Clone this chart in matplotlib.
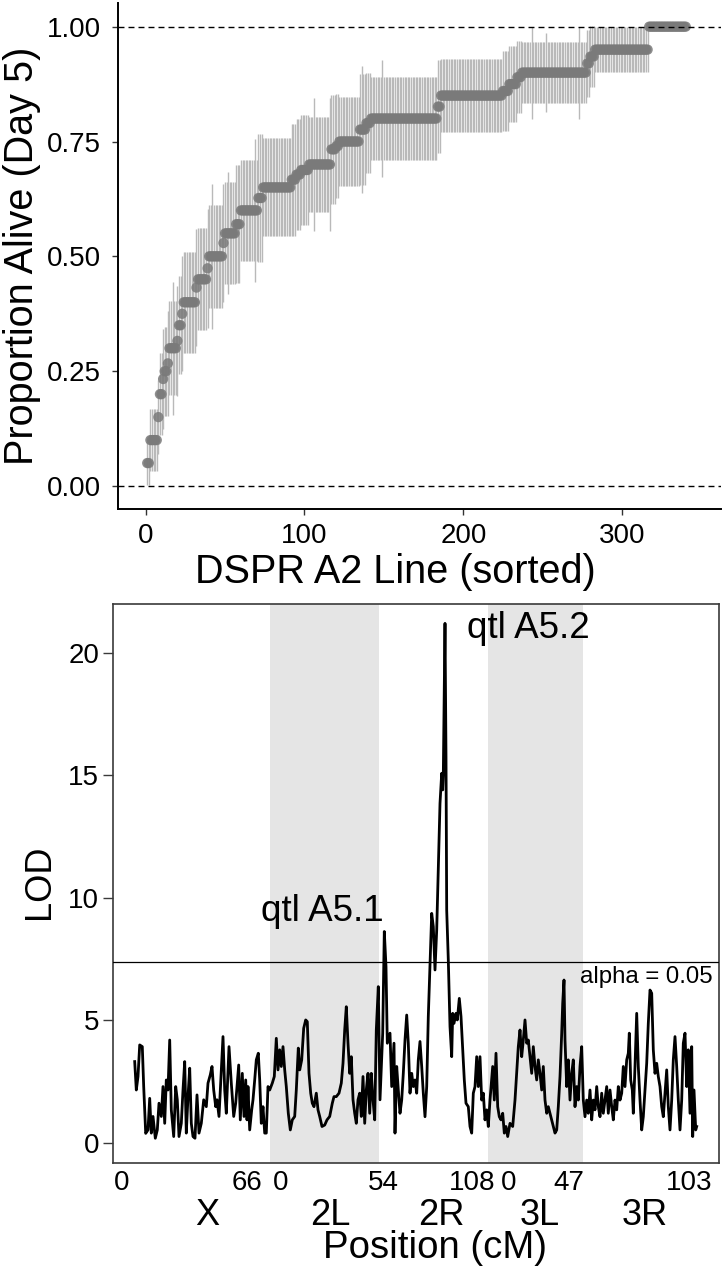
import numpy as np
import matplotlib
matplotlib.use('Agg')
from matplotlib import pyplot as plt
from matplotlib.transforms import blended_transform_factory

plt.rcParams['font.family'] = ['Liberation Sans', 'DejaVu Sans']

# ---- top panel: proportion alive at day 5, lines sorted (run length per level)
prop_levels = [0.05, 0.10, 0.15, 0.20, 0.233, 0.25, 0.267, 0.30, 0.316, 0.35, 0.375,
               0.40, 0.432, 0.45, 0.474, 0.50, 0.529, 0.55, 0.57, 0.60, 0.627, 0.65,
               0.667, 0.678, 0.688, 0.70, 0.733, 0.74, 0.75, 0.776, 0.79, 0.80, 0.826,
               0.85, 0.86, 0.875, 0.89, 0.90, 0.92, 0.935, 0.95, 1.00]
prop_counts = [2, 5, 1, 2, 1, 2, 1, 5, 1, 2, 1,
               8, 1, 6, 1, 9, 1, 7, 3, 11, 3, 18,
               3, 3, 5, 14, 3, 2, 13, 4, 3, 42, 2,
               39, 4, 5, 3, 41, 2, 3, 34, 24]
prop_n = [20, 20, 20, 20, 15, 20, 15, 20, 15, 20, 15,
          20, 15, 20, 15, 20, 15, 20, 15, 20, 12, 20,
          15, 15, 15, 20, 14, 15, 20, 12, 14, 20, 14,
          20, 16, 16, 16, 20, 14, 14, 20, 20]
# single lines with fewer flies (longer bars)
low_n_lines = [17, 42, 52, 69, 106, 116, 136, 149, 243, 252, 273]
low_n_flies = [10, 10, 14, 10, 10, 10, 9, 10, 9, 12, 9]

# ---- bottom panel: LOD scan (position along genome in plot units)
lod_pos = [12.7, 14.3, 16.0, 17.7, 20.3, 21.7, 23.7, 26.0, 27.7, 29.3, 31.0, 33.3, 35.3,
           37.0, 39.3, 41.0, 42.7, 44.3, 46.0, 47.7, 49.3, 51.7, 53.7, 55.3, 57.0, 59.3,
           61.0, 62.7, 64.3, 66.0, 67.7, 69.3, 71.0, 73.0, 75.0, 77.0, 79.3, 81.7, 84.3,
           86.0, 88.3, 90.0, 91.7, 93.7, 95.0, 97.0, 98.3, 101.0, 102.7, 104.3, 107.0,
           109.3, 111.7, 113.7, 115.0, 116.7, 118.3, 120.3, 122.0, 123.7, 125.0, 126.0,
           127.7, 129.7, 131.0, 132.7, 134.3, 136.3, 137.7, 139.3, 141.0, 142.7, 144.3,
           146.0, 147.7, 150.3, 152.3, 154.3, 156.0, 157.7, 159.3, 161.0, 162.7, 164.3,
           166.3, 168.3, 170.3, 172.7, 174.3, 176.3, 177.7, 179.7, 181.7, 183.7, 185.3,
           187.0, 188.7, 190.3, 192.0, 194.3, 196.0, 197.7, 200.0, 202.7, 205.0, 207.7,
           210.3, 212.0, 214.3, 217.0, 219.3, 221.0, 222.7, 224.3, 226.0, 227.7, 229.3,
           231.0, 232.7, 234.3, 236.0, 237.7, 239.3, 241.0, 242.7, 244.3, 246.0, 247.7,
           249.3, 251.0, 252.7, 254.3, 256.3, 258.0, 260.7, 262.3, 264.0, 265.3, 268.0,
           269.7, 272.0, 273.0, 274.7, 276.3, 278.0, 279.7, 281.3, 283.0, 284.7, 286.3,
           288.0, 289.7, 291.3, 293.0, 294.7, 296.3, 298.0, 299.7, 301.3, 303.0, 304.7,
           306.3, 308.0, 309.7, 311.3, 313.0, 314.7, 317.3, 318.0, 319.7, 320.7, 321.3,
           322.3, 323.0, 324.0, 324.7, 326.3, 328.0, 329.7, 330.7, 332.0, 334.0, 335.3,
           337.3, 339.0, 340.7, 342.3, 344.0, 346.3, 348.0, 349.7, 351.3, 353.0, 354.7,
           356.3, 358.0, 359.7, 361.3, 363.0, 364.7, 366.3, 368.0, 370.7, 372.3, 374.0,
           375.7, 377.3, 379.0, 380.7, 382.3, 384.0, 385.7, 388.0, 390.7, 393.0, 394.7,
           396.3, 398.0, 399.7, 401.3, 403.0, 404.7, 406.3, 408.0, 409.7, 411.3, 413.0,
           414.7, 416.3, 418.0, 419.7, 421.3, 423.0, 424.7, 426.3, 428.0, 429.7, 431.3,
           433.0, 434.7, 436.3, 438.0, 439.7, 440.7, 442.0, 443.0, 444.7, 446.3, 448.0,
           449.7, 451.3, 453.0, 454.7, 456.3, 458.0, 459.7, 461.3, 463.0, 464.7, 466.3,
           468.0, 469.7, 471.3, 473.0, 474.7, 476.3, 478.0, 479.7, 481.3, 483.0, 484.7,
           486.3, 488.0, 489.7, 491.3, 493.0, 494.7, 496.3, 498.0, 499.7, 501.3, 503.0,
           504.7, 506.3, 507.3, 508.7, 510.3, 511.3, 513.0, 514.7, 516.3, 518.0, 519.7,
           521.3, 523.0, 524.7, 526.3, 528.0, 529.7, 531.3, 533.0, 534.7, 536.3, 538.0,
           539.7, 541.3, 543.0, 544.7, 546.3, 548.0, 549.7, 551.3, 553.0, 554.7, 556.3,
           558.0, 559.7, 561.3, 563.0, 564.7, 566.3, 568.0, 569.7, 570.7, 572.0, 573.7,
           574.7]
lod_val = [3.32, 2.16, 2.71, 4.00, 3.93, 2.30, 0.39, 0.53, 1.82, 0.40, 1.08, 0.19, 0.53,
           1.62, 1.08, 2.30, 0.80, 2.57, 2.16, 4.20, 1.35, 0.26, 2.30, 1.76, 0.26, 0.80,
           2.16, 3.32, 0.40, 1.89, 3.05, 0.80, 0.26, 0.19, 1.96, 0.40, 0.80, 1.76, 1.48,
           2.44, 2.78, 3.12, 2.16, 1.48, 1.76, 1.08, 2.16, 4.34, 2.16, 1.21, 3.93,
           2.44, 1.08, 1.62, 2.30, 3.18, 0.94, 2.84, 1.08, 2.57, 0.94, 2.30,
           0.53, 1.35, 1.76, 2.57, 3.39, 3.66, 2.57, 0.80, 1.48, 0.40, 0.40,
           2.30, 2.16, 2.44, 2.71, 4.27, 2.98, 3.80, 3.12, 3.93, 2.98, 2.30,
           1.21, 0.53, 0.94, 1.08, 2.16, 3.87, 2.98, 3.39, 4.68, 5.02, 4.95,
           2.84, 2.03, 1.62, 1.48, 2.03, 1.35, 1.08, 0.67, 0.73, 0.94, 1.08,
           1.62, 1.89, 1.89, 2.03, 2.44, 3.25, 4.61, 5.56, 4.07, 2.84, 3.52,
           1.76, 1.21, 0.80, 1.76, 2.03, 1.08, 2.71, 0.80, 2.16, 2.84, 1.21,
           2.84, 1.76, 0.94, 4.61, 6.38, 1.76, 4.48, 8.63, 7.20, 4.07, 4.48,
           2.30, 4.07, 0.40, 3.12, 2.16, 1.21, 1.75, 2.84, 4.20, 5.22, 4.07,
           2.03, 2.84, 2.30, 2.57, 2.03, 3.39, 4.14, 3.12, 2.03, 1.07, 2.30,
           5.16, 7.20, 9.37, 8.83, 7.06, 8.69, 12.64, 13.86, 15.09, 14.41, 15.00,
           18.49, 21.21, 15.77, 9.50, 7.47, 4.75, 3.52, 5.29, 4.88, 5.29, 5.02,
           5.90, 5.16, 3.80, 2.57, 1.62, 1.48, 0.67, 0.40, 2.03, 2.30, 3.52,
           2.30, 3.52, 1.75, 2.03, 0.94, 1.35, 0.67, 1.75, 3.12, 1.75, 3.66,
           1.48, 1.07, 0.94, 1.21, 0.40, 0.67, 0.26, 0.80, 0.67, 1.75, 2.84,
           3.93, 4.61, 3.52, 4.20, 5.02, 4.07, 4.20, 3.52, 2.84, 3.93, 3.12,
           2.57, 3.39, 2.84, 2.16, 3.12, 1.75, 1.21, 1.48, 1.21, 0.94, 0.67,
           0.40, 0.53, 1.48, 2.71, 4.48, 5.70, 6.65, 4.20, 2.30, 3.39, 1.75,
           2.84, 3.39, 1.48, 2.30, 1.75, 3.12, 3.93, 1.75, 1.07, 1.75, 1.21,
           2.16, 0.94, 1.75, 1.35, 2.30, 1.48, 1.07, 2.03, 1.21, 1.75, 2.30,
           1.21, 2.16, 1.48, 0.94, 1.75, 1.35, 2.30, 1.75, 2.03, 3.12, 2.30,
           3.39, 3.66, 4.48, 2.57, 2.16, 1.21, 3.12, 5.29, 3.12, 1.75, 0.53,
           1.07, 2.16, 3.25, 4.88, 6.24, 6.11, 3.80, 2.84, 3.25, 2.71, 2.30,
           1.48, 1.07, 2.03, 2.98, 1.48, 0.53, 1.75, 3.39, 4.34, 3.12, 1.75,
           0.53, 1.75, 4.07, 4.48, 2.30, 3.80, 1.21, 3.93, 0.26, 2.16, 0.53,
           0.67]
lod_threshold = 7.39

# chromosome arms (plot units), shaded arms and cM tick labels
arm_names = ['X', '2L', '2R', '3L', '3R']
arm_label_pos = [85, 208, 319, 418, 523]
arm_edges = [0, 148, 257, 366, 461, 575]
shaded_arms = ['2L', '3L']
cm_tick_pos = [0, 125, 158.5, 261, 350, 387, 447, 567.5]
cm_tick_lab = ['0', '66', '0', '54', '108', '0', '47', '103']

W, H = 725, 1271
fig = plt.figure(figsize=(W / 100, H / 100), dpi=100)

# ---------------- top panel
p = np.repeat(prop_levels, prop_counts)
n = np.repeat(prop_n, prop_counts).astype(float)
lines = np.arange(1, len(p) + 1)
for ln, nf in zip(low_n_lines, low_n_flies):
    n[ln - 1] = nf
se = np.sqrt(p * (1 - p) / n)

ax1 = fig.add_axes([118 / W, 1 - 509 / H, (721 - 118) / W, (509 - 3) / H])
ax1.vlines(lines, p - se, p + se, color='#b9b9b9', lw=1.0, zorder=1)
ax1.scatter(lines, p, s=55, color='#7a7a7a', alpha=0.85, edgecolors='none', zorder=2)
for yy in [0, 1]:
    ax1.axhline(yy, color='black', lw=1.0, ls=(0, (4.3, 2.9)), zorder=3)
ax1.set_xlim(-17.4, 362.2)
ax1.set_ylim(-0.050, 1.0515)
ax1.set_xticks([0, 100, 200, 300])
ax1.set_yticks([0, 0.25, 0.5, 0.75, 1.0])
ax1.set_yticklabels(['0.00', '0.25', '0.50', '0.75', '1.00'])
for s in ['top', 'right']:
    ax1.spines[s].set_visible(False)
for s in ['left', 'bottom']:
    ax1.spines[s].set_linewidth(1.4)
    ax1.spines[s].set_color('black')
ax1.tick_params(axis='both', length=4, width=1, color='#333333', labelsize=20)
ax1.tick_params(axis='y', pad=8)
ax1.tick_params(axis='x', pad=6)
fig.text(22 / W, 1 - 256 / H, 'Proportion Alive (Day 5)', rotation=90,
         ha='center', va='center', fontsize=28.5)
fig.text(395 / W, 1 - 583 / H, 'DSPR A2 Line (sorted)', ha='center', va='baseline',
         fontsize=28.5)

# ---------------- bottom panel
ax2 = fig.add_axes([113 / W, 1 - 1163 / H, (719 - 113) / W, (1163 - 604) / H])
for i, name in enumerate(arm_names):
    if name in shaded_arms:
        ax2.axvspan(arm_edges[i], arm_edges[i + 1], color='#e5e5e5', lw=0, zorder=0)
ax2.plot(lod_pos, lod_val, color='black', lw=2.0, zorder=2)
ax2.axhline(lod_threshold, color='black', lw=0.9, zorder=3)
ax2.set_xlim(-9, 597)
ax2.set_ylim(-0.82, 22.0)
ax2.set_yticks([0, 5, 10, 15, 20])
ax2.set_xticks([])
for s in ax2.spines.values():
    s.set_linewidth(1.2)
    s.set_color('#3a3a3a')
ax2.tick_params(axis='y', length=7, width=1, color='#3a3a3a', labelsize=20, pad=3)

ax2.text(200, 9.04, 'qtl A5.1', ha='center', va='baseline', fontsize=26.5)
ax2.text(406.5, 20.6, 'qtl A5.2', ha='center', va='baseline', fontsize=26.5)
ax2.text(591, 6.54, 'alpha = 0.05', ha='right', va='baseline', fontsize=17.3)

tr = blended_transform_factory(ax2.transData, fig.transFigure)
for xp, lab in zip(cm_tick_pos, cm_tick_lab):
    ax2.text(xp, 1 - 1190 / H, lab, transform=tr, ha='center', va='baseline', fontsize=20)
for xp, lab in zip(arm_label_pos, arm_names):
    ax2.text(xp, 1 - 1225 / H, lab, transform=tr, ha='center', va='baseline', fontsize=26)
fig.text(435 / W, 1 - 1258 / H, 'Position (cM)', ha='center', va='baseline', fontsize=27.6)
fig.text(40 / W, 1 - 882 / H, 'LOD', rotation=90, ha='center', va='center', fontsize=26)

fig.savefig('out.png', dpi=100)
